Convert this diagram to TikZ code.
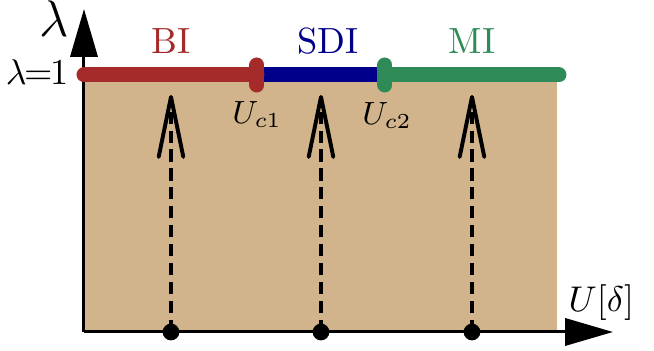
\documentclass[tikz,border=0pt]{standalone}
\usetikzlibrary{arrows.meta}
\definecolor{biRed}{RGB}{165,42,42}
\definecolor{sdiBlue}{RGB}{0,0,139}
\definecolor{miGreen}{RGB}{46,139,87}
\definecolor{regionTan}{RGB}{210,180,140}
\begin{document}
\begin{tikzpicture}[x=0.28pt,y=-0.28pt,
  axisline/.style={line width=0.84pt,-{Triangle[length=13.4pt,width=7.6pt]}},
  phaseline/.style={line width=4.2pt,line cap=round},
  critmark/.style={line width=4.2pt,line cap=round},
  flowline/.style={line width=0.85pt,dash pattern=on 3.4pt off 1.9pt,
    -{Straight Barb[length=16.8pt,width=6.9pt,line width=1.1pt,round]}},
  startdot/.style={circle,fill=black,inner sep=0pt,minimum size=4.7pt},
  txt/.style={inner sep=0pt},
  phaselabel/.style={txt,font=\fontsize{10.2}{12}\selectfont,anchor=base},
  critlabel/.style={txt,font=\fontsize{8.7}{10}\selectfont,anchor=base}]
\useasboundingbox (0,0) rectangle (654,351);

% corner points of the parameter region
\coordinate (origin) at (84,332);
\coordinate (ytip) at (84,9);
\coordinate (xtip) at (613,332);
\coordinate (lineL) at (84,75);
\coordinate (uc1) at (257,75);
\coordinate (uc2) at (385,75);
\coordinate (lineR) at (559,75);

% shaded region
\fill[regionTan] (84,75) rectangle (557,332);

% axes
\draw[axisline] (origin) -- (ytip);
\draw[axisline] (origin) -- (xtip);

% phase boundary at lambda = 1
\draw[phaseline,miGreen] (uc2) -- (lineR);
\draw[phaseline,sdiBlue,line cap=butt] (uc1) -- (uc2);
\draw[phaseline,biRed] (lineL) -- (uc1);
\draw[critmark,biRed] (257,65) -- (257,85);
\draw[critmark,miGreen] (385,65) -- (385,85);

% phase labels
\node[phaselabel,text=biRed] (bi) at (171,54) {BI};
\node[phaselabel,text=sdiBlue] (sdi) at (328,54) {SDI};
\node[phaselabel,text=miGreen] (mi) at (472,54) {MI};

% critical values
\node[critlabel] (ucA) at (257,124) {$U_{c1}$};
\node[critlabel] (ucB) at (387,125) {$U_{c2}$};

% axis labels
\node[txt,font=\fontsize{13.5}{15}\selectfont,anchor=base] (lam) at (54,37) {$\lambda$};
\node[txt,font=\fontsize{10.2}{12}\selectfont,anchor=base east] (lamone) at (69,85)
  {$\lambda$\kern-0.07em=\kern-0.07em1};
\node[txt,font=\fontsize{10.2}{12}\selectfont,anchor=base west] (uaxis) at (568,312) {$U[\delta]$};

% starting points and adiabatic paths
\foreach \n/\x in {a/171,b/321,c/472}{
  \node[startdot] (d\n) at (\x,332) {};
  \coordinate (t\n) at (\x,95);
  \draw[flowline] (d\n.center) -- (t\n);
}
\end{tikzpicture}
\end{document}
